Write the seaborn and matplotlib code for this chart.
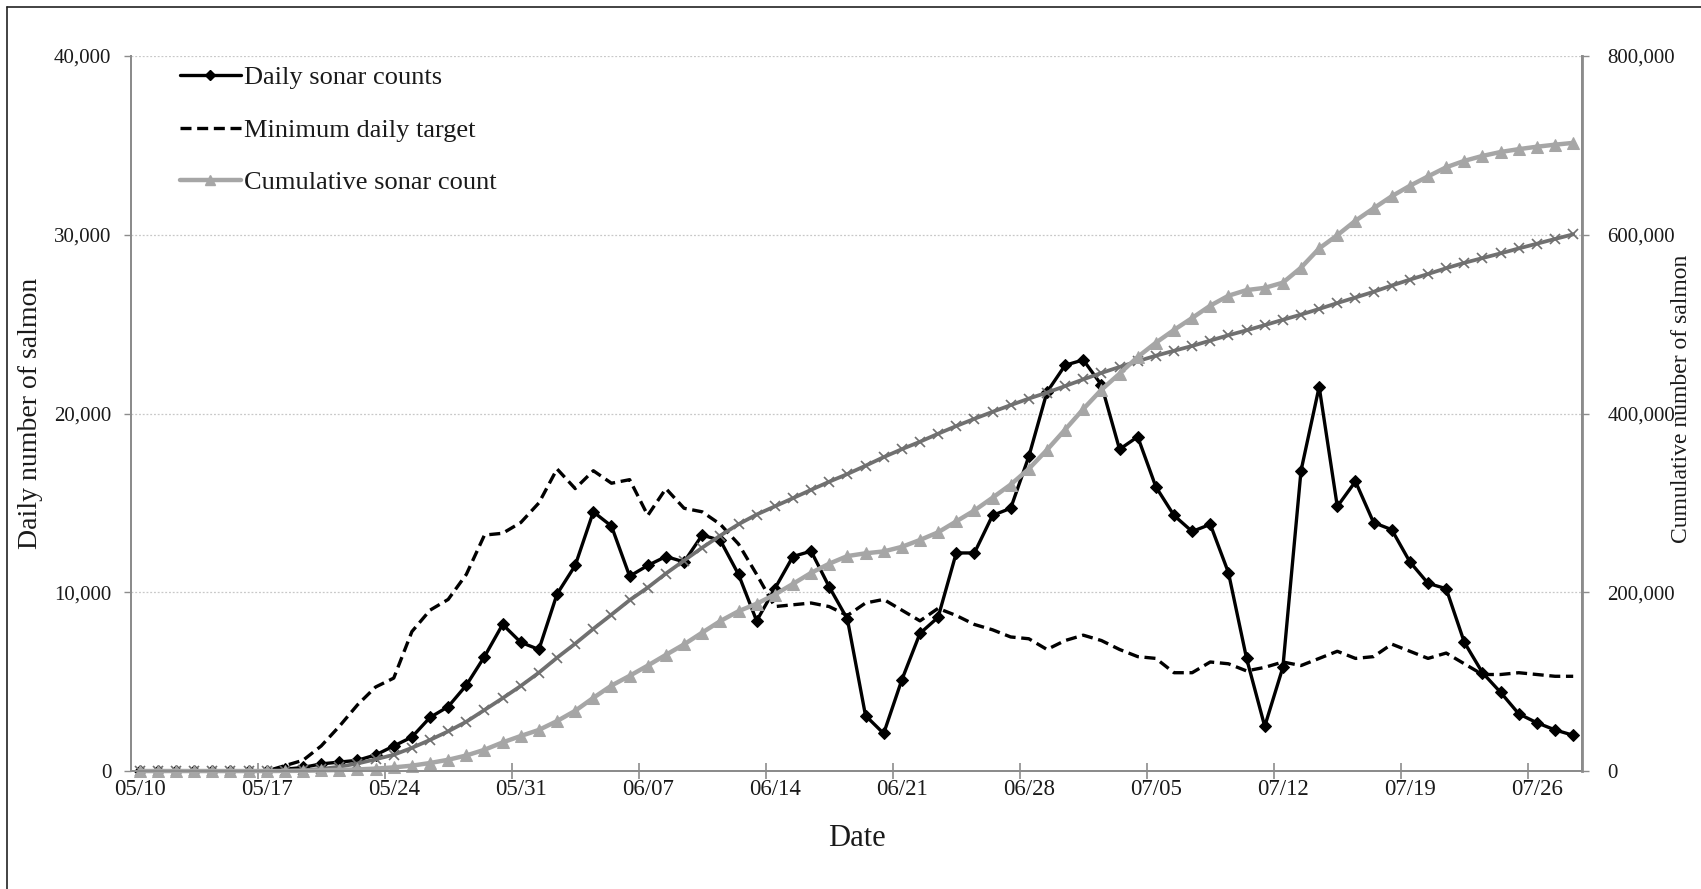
import numpy as np
import pandas as pd
import seaborn as sns
import matplotlib.pyplot as plt
from matplotlib.ticker import FuncFormatter, FixedLocator
from matplotlib.lines import Line2D

# one point per day, 05/10 through 07/28
dates = pd.date_range("2016-05-10", periods=80, freq="D")
date_labels = [d.strftime("%m/%d") for d in dates]

daily_counts = [
    0, 0, 0, 0, 0, 0, 0, 0, 100, 200,
    400, 500, 600, 900, 1400, 1900, 3000, 3600, 4800, 6400,
    8200, 7200, 6800, 9900, 11500, 14500, 13700, 10900, 11500, 12000,
    11700, 13200, 12900, 11000, 8400, 10200, 12000, 12300, 10300, 8500,
    3100, 2100, 5100, 7700, 8600, 12200, 12200, 14300, 14700, 17600,
    21200, 22700, 23000, 21600, 18000, 18700, 15900, 14300, 13400, 13800,
    11100, 6300, 2500, 5800, 16800, 21500, 14800, 16200, 13900, 13500,
    11700, 10500, 10200, 7200, 5500, 4400, 3200, 2700, 2300, 2000,
]

min_daily_target = [
    0, 0, 0, 0, 0, 0, 0, 0, 300, 600,
    1400, 2500, 3700, 4700, 5200, 7800, 9000, 9600, 11000, 13200,
    13300, 13900, 15000, 16900, 15800, 16800, 16100, 16300, 14300, 15800,
    14700, 14500, 13800, 12700, 11000, 9200, 9300, 9400, 9200, 8700,
    9400, 9600, 9000, 8400, 9100, 8700, 8200, 7900, 7500, 7400,
    6800, 7300, 7600, 7300, 6800, 6400, 6300, 5500, 5500, 6100,
    6000, 5600, 5800, 6100, 5900, 6300, 6700, 6300, 6400, 7100,
    6700, 6300, 6600, 6000, 5400, 5400, 5500, 5400, 5300, 5300,
]

cumulative_count = [
    0, 0, 0, 0, 0, 0, 0, 0, 100, 300,
    700, 1200, 1800, 2700, 4100, 6000, 9000, 12600, 17400, 23800,
    32000, 39200, 46000, 55900, 67400, 81900, 95600, 106500, 118000, 130000,
    141700, 154900, 167800, 178800, 187200, 197400, 209400, 221700, 232000, 240500,
    243600, 245700, 250800, 258500, 267100, 279300, 291500, 305800, 320500, 338100,
    359300, 382000, 405000, 426600, 444600, 463300, 479200, 493500, 506900, 520700,
    531800, 538100, 540600, 546400, 563200, 584700, 599500, 615700, 629600, 643100,
    654800, 665300, 675500, 682700, 688200, 692600, 695800, 698500, 700800, 702800,
]

cumulative_target = [
    0, 0, 0, 0, 0, 0, 0, 0, 300, 900,
    2300, 4800, 8400, 13100, 18200, 25900, 34800, 44400, 55200, 68300,
    81500, 95200, 110100, 126800, 142500, 159100, 175000, 191200, 205300, 221000,
    235500, 249900, 263500, 276100, 287000, 296100, 305300, 314600, 323700, 332300,
    341600, 351200, 360100, 368400, 377400, 386000, 394100, 401900, 409400, 416700,
    423400, 430700, 438200, 445400, 452100, 458500, 464700, 470200, 475600, 481600,
    487600, 493100, 498900, 504900, 510700, 517000, 523600, 529800, 536200, 543200,
    549800, 556100, 562600, 568600, 573900, 579200, 584700, 590000, 595300, 600500,
]

df = pd.DataFrame({
    "day": np.arange(len(dates)),
    "daily": daily_counts,
    "target": min_daily_target,
    "cum": cumulative_count,
    "cum_target": cumulative_target,
})

sns.set_theme(style="white")
plt.rcParams["font.family"] = ["Liberation Serif", "DejaVu Serif"]

fig = plt.figure(figsize=(17.01, 8.89), dpi=100)
ax = fig.add_axes([0.0768, 0.1327, 0.8534, 0.8043])
ax2 = ax.twinx()

axis_grey = "#8c8c8c"
text_col = "#1a1a1a"
dash = (0, (3.3, 1.7))

sns.lineplot(data=df, x="day", y="daily", ax=ax, color="black", lw=2.4,
             marker="D", markersize=6.3, markeredgecolor="black", clip_on=False,
             legend=False)
sns.lineplot(data=df, x="day", y="target", ax=ax, color="black", lw=2.4,
             linestyle=dash, legend=False)
sns.lineplot(data=df, x="day", y="cum_target", ax=ax2, color="#707070", lw=2.7,
             marker="x", markersize=7.5, markeredgewidth=1.2, markeredgecolor="#707070",
             clip_on=False, legend=False)
sns.lineplot(data=df, x="day", y="cum", ax=ax2, color="#a6a6a6", lw=3.2,
             marker="^", markersize=8, markeredgecolor="#a6a6a6", clip_on=False,
             legend=False)

# axes limits and ticks
n = len(dates)
ax.set_xlim(-0.5, n - 0.5)
ax.set_ylim(0, 40000)
ax2.set_ylim(0, 800000)
ax.set_yticks(np.arange(0, 40001, 10000))
ax2.set_yticks(np.arange(0, 800001, 200000))
ax.yaxis.set_major_formatter(FuncFormatter(lambda v, p: f"{int(v):,}"))
ax2.yaxis.set_major_formatter(FuncFormatter(lambda v, p: f"{int(v):,}"))

label_pos = np.arange(0, n, 7)
ax.set_xticks(label_pos)
ax.set_xticklabels([date_labels[i] for i in label_pos])
ax.xaxis.set_minor_locator(FixedLocator(np.arange(-0.5, n, 1)))
ax.tick_params(axis="x", which="major", length=0, pad=6, labelsize=16.5, labelcolor=text_col)
ax.tick_params(axis="x", which="minor", direction="in", length=5, width=1, color=axis_grey)
ax.tick_params(axis="y", which="major", direction="out", length=5, width=1,
               color=axis_grey, labelsize=15, labelcolor=text_col, pad=9, left=True)
ax2.tick_params(axis="y", which="major", direction="out", length=5, width=1,
                color=axis_grey, labelsize=15, labelcolor=text_col, pad=13, right=True)

# longer week ticks between categories
sec = ax.secondary_xaxis("bottom")
sec.set_xticks(np.arange(6.5, n, 7))
sec.set_xticklabels([])
sec.tick_params(direction="inout", length=11, width=1.2, color=axis_grey)
sec.spines["bottom"].set_visible(False)

ax.grid(axis="y", color="#c8c8c8", linestyle=(0, (1.5, 1.5)), lw=0.9)
ax.set_axisbelow(True)
ax2.grid(False)

for a in (ax, ax2):
    a.spines["top"].set_visible(False)
    for s in ("left", "right", "bottom"):
        a.spines[s].set_color(axis_grey)
        a.spines[s].set_linewidth(1.4)
ax2.spines["right"].set_linewidth(2.0)

ax.set_xlabel("Date", fontsize=22, color=text_col, labelpad=17)
ax.set_ylabel("Daily number of salmon", fontsize=20, color=text_col, labelpad=8)
ax2.set_ylabel("Cumulative number of salmon", fontsize=17, color=text_col, rotation=90)
ax2.yaxis.set_label_coords(1.0612, 0.52)

handles = [
    Line2D([], [], color="black", lw=2.4, marker="D", markersize=5.5),
    Line2D([], [], color="black", lw=2.4, linestyle=dash),
    Line2D([], [], color="#a6a6a6", lw=3.2, marker="^", markersize=7),
]
labels = ["Daily sonar counts", "Minimum daily target", "Cumulative sonar count"]
ax2.legend(handles, labels, loc="upper left", bbox_to_anchor=(0.034, 0.986),
           frameon=False, fontsize=19, handlelength=2.3, handletextpad=0.12,
           labelspacing=1.1, borderaxespad=0, borderpad=0, labelcolor=text_col)

# outer frame (left and top edges visible in the source)
fig.add_artist(Line2D([7 / 1701, 7 / 1701], [0, 1 - 7 / 889], color="#222222", lw=1.2))
fig.add_artist(Line2D([7 / 1701, 1], [1 - 7 / 889, 1 - 7 / 889], color="#222222", lw=1.2))

fig.savefig("out.png", dpi=100)
